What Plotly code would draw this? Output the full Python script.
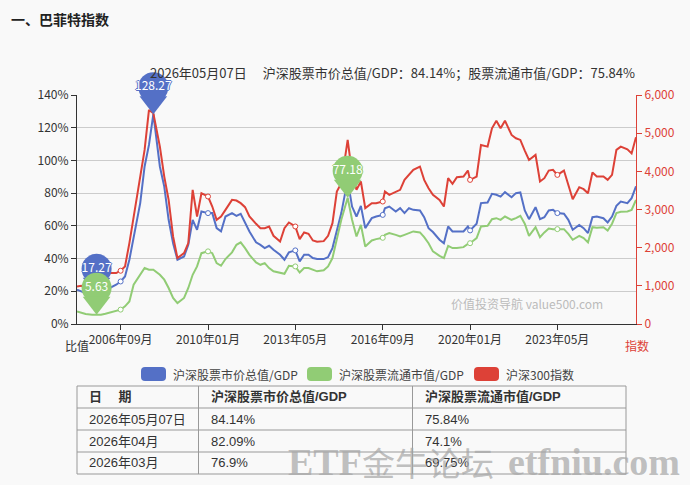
import plotly.graph_objects as go

# ---------------- data ----------------
dates = [
    "2005-01", "2005-03", "2005-05", "2005-08", "2005-10", "2005-12", "2006-02", "2006-04", "2006-07", "2006-09",
    "2006-11", "2007-01", "2007-03", "2007-06", "2007-08", "2007-10", "2007-12", "2008-03", "2008-05", "2008-07",
    "2008-09", "2008-11", "2009-02", "2009-04", "2009-06", "2009-08", "2009-10", "2010-01", "2010-03", "2010-05",
    "2010-07", "2010-09", "2010-12", "2011-02", "2011-04", "2011-06", "2011-08", "2011-11", "2012-01", "2012-03",
    "2012-05", "2012-07", "2012-10", "2012-12", "2013-02", "2013-05", "2013-07", "2013-09", "2013-11", "2014-01",
    "2014-03", "2014-06", "2014-08", "2014-10", "2014-12", "2015-02", "2015-05", "2015-07", "2015-09", "2015-11",
    "2016-01", "2016-04", "2016-06", "2016-09", "2016-10", "2016-12", "2017-03", "2017-05", "2017-07", "2017-09",
    "2017-11", "2018-02", "2018-04", "2018-06", "2018-08", "2018-11", "2019-01", "2019-03", "2019-05", "2019-07",
    "2019-10", "2019-12", "2020-01", "2020-04", "2020-06", "2020-09", "2020-11", "2021-01", "2021-03", "2021-05",
    "2021-08", "2021-10", "2021-12", "2022-02", "2022-04", "2022-07", "2022-09", "2022-11", "2023-01", "2023-03",
    "2023-05", "2023-08", "2023-10", "2023-12", "2024-03", "2024-05", "2024-07", "2024-09", "2024-11", "2025-02",
    "2025-04", "2025-06", "2025-08", "2025-10", "2026-01", "2026-03", "2026-05",
]

# 沪深股票市价总值/GDP (%)
total_gdp = [
    21.0, 19.9, 18.9, 17.9, 17.27, 17.9, 18.9, 22.0, 24.0, 26.0,
    29.1, 39.3, 53.5, 73.9, 96.3, 109.5, 128.27, 96.3, 84.0, 63.7,
    49.4, 39.3, 41.3, 48.4, 63.7, 57.6, 68.8, 67.8, 67.8, 58.6,
    56.6, 65.7, 67.8, 66.1, 67.4, 61.7, 56.6, 49.9, 48.4, 46.4,
    47.8, 45.4, 42.3, 39.3, 43.8, 45.0, 38.3, 42.3, 42.3, 40.3,
    39.7, 39.7, 40.9, 46.4, 56.6, 67.8, 88.1, 71.8, 65.7, 72.2,
    58.6, 64.7, 65.7, 66.7, 70.8, 71.8, 68.8, 70.8, 67.8, 70.8,
    69.8, 69.4, 65.3, 58.6, 56.2, 51.5, 49.4, 59.6, 56.6, 56.6,
    56.6, 59.6, 57.2, 61.3, 73.9, 74.3, 79.6, 79.0, 77.9, 80.6,
    77.5, 80.0, 80.4, 69.4, 64.1, 71.4, 64.1, 65.3, 69.4, 69.8,
    67.8, 67.4, 63.7, 57.6, 60.6, 58.6, 55.6, 65.3, 65.7, 64.7,
    62.1, 65.7, 72.2, 74.9, 73.9, 76.9, 84.14,
]

# 沪深股票流通市值/GDP (%)
float_gdp = [
    7.7, 6.7, 6.1, 5.7, 5.63, 5.7, 6.3, 7.1, 8.1, 8.8,
    10.8, 13.8, 24.0, 30.1, 34.2, 33.2, 33.2, 30.1, 27.1, 22.0,
    15.9, 12.8, 15.9, 22.0, 30.1, 35.2, 43.3, 44.4, 43.3, 37.2,
    35.6, 39.7, 43.8, 48.4, 49.9, 46.4, 42.3, 37.6, 36.2, 37.2,
    34.2, 32.2, 31.1, 30.7, 35.6, 35.2, 31.5, 34.2, 34.2, 33.2,
    32.2, 32.8, 35.2, 40.3, 51.9, 63.7, 77.18, 63.7, 53.5, 60.6,
    47.4, 51.1, 51.9, 52.7, 54.5, 55.6, 54.5, 53.5, 54.5, 55.6,
    56.6, 56.0, 53.1, 49.4, 44.4, 41.7, 40.3, 47.8, 46.4, 46.4,
    47.0, 49.0, 49.4, 52.5, 59.6, 60.0, 64.1, 64.7, 63.7, 65.7,
    63.7, 64.7, 66.1, 61.3, 53.9, 59.2, 53.1, 56.0, 58.4, 58.0,
    58.0, 58.0, 55.1, 51.5, 53.9, 52.5, 49.9, 59.2, 58.8, 59.2,
    57.2, 61.3, 67.8, 68.6, 68.8, 69.75, 75.84,
]

# 沪深300指数
hs300 = [
    985, 1003, 942, 985, 1029, 1073, 1160, 1334, 1334, 1395,
    1509, 2119, 2817, 3907, 4561, 5608, 5520, 4648, 3863, 3253,
    2294, 1727, 1858, 2119, 3515, 2817, 3427, 3340, 3078, 2730,
    2817, 2991, 3253, 3235, 3166, 3061, 2817, 2625, 2512, 2512,
    2555, 2311, 2163, 2512, 2660, 2555, 2224, 2398, 2363, 2189,
    2154, 2171, 2311, 2642, 3471, 3689, 4823, 3951, 3515, 3733,
    3035, 3166, 3166, 3209, 3471, 3384, 3471, 3515, 3776, 3907,
    4038, 4125, 3776, 3558, 3384, 3253, 3078, 3820, 3671, 3846,
    3863, 4020, 3776, 3863, 4692, 4648, 5128, 5328, 5128, 5328,
    4953, 4866, 4823, 4544, 4299, 4430, 3733, 3820, 4020, 4038,
    3907, 4020, 3619, 3270, 3584, 3532, 3427, 3968, 3863, 3863,
    3776, 3907, 4561, 4648, 4578, 4470, 4892,
]

tick_dates = ["2006-09", "2010-01", "2013-05", "2016-09", "2020-01", "2023-05"]
tick_text = ["2006年09月", "2010年01月", "2013年05月", "2016年09月", "2020年01月", "2023年05月"]

legend_names = ["沪深股票市价总值/GDP", "沪深股票流通市值/GDP", "沪深300指数"]

table_header = ["日\u3000 期", "沪深股票市价总值/GDP", "沪深股票流通市值/GDP"]
table_dates = ["2026年05月07日", "2026年04月", "2026年03月"]
table_total = ["84.14%", "82.09%", "76.9%"]
table_float = ["75.84%", "74.1%", "69.75%"]

latest_label = "2026年05月07日"

# ---------------- style ----------------
BLUE, GREEN, RED = "#5470c6", "#91cc75", "#dd4137"
BG = "#f9f9f9"
W, H = 690, 485
ML, MR, MT, MB = 77, 54, 60, 161
PW, PH = W - ML - MR, H - MT - MB
PLOT_TOP, PLOT_BOTTOM = 95, H - MB          # pixel rows of the 140% / 0% lines
DOM_TOP = (PLOT_BOTTOM - PLOT_TOP) / PH
Y_MAX, R_MAX = 140, 6000
FONT = "Noto Sans CJK SC, Noto Sans, sans-serif"
TFONT = "Liberation Sans, Arial, Noto Sans CJK SC, sans-serif"


def fx(p):
    return (p - ML) / PW


def fy(p):
    return (PLOT_BOTTOM - p) / PH


def outline(c):
    return f"-1px 0 {c}, 1px 0 {c}, 0 -1px {c}, 0 1px {c}"


fig = go.Figure()

tick_idx = [dates.index(d) for d in tick_dates]
for vals, color, name, ax in [
    (total_gdp, BLUE, legend_names[0], "y"),
    (float_gdp, GREEN, legend_names[1], "y"),
    (hs300, RED, legend_names[2], "y2"),
]:
    fig.add_trace(go.Scatter(x=dates, y=vals, mode="lines", name=name, yaxis=ax,
                             line=dict(color=color, width=2), showlegend=False, hoverinfo="skip"))
    fig.add_trace(go.Scatter(x=[dates[i] for i in tick_idx], y=[vals[i] for i in tick_idx],
                             mode="markers", yaxis=ax, showlegend=False, hoverinfo="skip",
                             marker=dict(symbol="circle", size=5, color="#ffffff",
                                         line=dict(color=color, width=1))))

# pins (max / min markPoints) drawn on copies of the left axis shifted upward
for vals, color, (yc, yt) in [(total_gdp, BLUE, ("y3", "y4")), (float_gdp, GREEN, ("y5", "y6"))]:
    idx = [vals.index(max(vals)), vals.index(min(vals))]
    xs = [dates[i] for i in idx]
    ys = [vals[i] for i in idx]
    fig.add_trace(go.Scatter(x=xs, y=ys, yaxis=yc, mode="markers+text",
                             marker=dict(symbol="circle", size=30, color=color, line=dict(width=0)),
                             text=[f"{v:.2f}" for v in ys], textposition="middle center",
                             textfont=dict(color="white", size=12, family=FONT, shadow=outline(color)),
                             cliponaxis=False, showlegend=False, hoverinfo="skip"))
    fig.add_trace(go.Scatter(x=xs, y=ys, yaxis=yt, mode="markers",
                             marker=dict(symbol="triangle-down", size=24, color=color, line=dict(width=0)),
                             cliponaxis=False, showlegend=False, hoverinfo="skip"))

shapes = []
annotations = []

# title / subtitle
annotations.append(dict(xref="paper", yref="paper", x=fx(9), y=fy(19), xanchor="left", yanchor="middle",
                        text="<b>一、巴菲特指数</b>", showarrow=False,
                        font=dict(family=FONT, size=14, color="#222")))
subtitle = (f"{latest_label}\u3000 沪深股票市价总值/GDP：{total_gdp[-1]:.2f}%；"
            f"股票流通市值/GDP：{float_gdp[-1]:.2f}%")
annotations.append(dict(xref="paper", yref="paper", x=fx(637), y=fy(73), xanchor="right", yanchor="middle",
                        text=subtitle, showarrow=False, font=dict(family=FONT, size=13, color="#333")))

# axis names
annotations.append(dict(xref="paper", yref="paper", x=fx(77), y=fy(345), xanchor="center", yanchor="middle",
                        text="比值", showarrow=False, font=dict(family=FONT, size=12, color="#333")))
annotations.append(dict(xref="paper", yref="paper", x=fx(637), y=fy(345), xanchor="center", yanchor="middle",
                        text="指数", showarrow=False, font=dict(family=FONT, size=12, color=RED)))

# site watermark inside plot
annotations.append(dict(xref="paper", yref="paper", x=fx(527), y=fy(303), xanchor="center", yanchor="middle",
                        text="价值投资导航 value500.com", showarrow=False,
                        font=dict(family=FONT, size=12, color="#bbbbbb")))


def rounded_rect(x0, y0, x1, y1, r):
    pts = [
        ("M", [(x0 + r, y0)]), ("L", [(x1 - r, y0)]), ("Q", [(x1, y0), (x1, y0 + r)]),
        ("L", [(x1, y1 - r)]), ("Q", [(x1, y1), (x1 - r, y1)]), ("L", [(x0 + r, y1)]),
        ("Q", [(x0, y1), (x0, y1 - r)]), ("L", [(x0, y0 + r)]), ("Q", [(x0, y0), (x0 + r, y0)]),
    ]
    s = ""
    for cmd, ps in pts:
        s += cmd + " " + " ".join(f"{fx(a):.5f},{fy(b):.5f}" for a, b in ps) + " "
    return s + "Z"


# legend (manual, rounded icons)
legend_x = [141, 307, 474]
for lx, name, color in zip(legend_x, legend_names, [BLUE, GREEN, RED]):
    shapes.append(dict(type="path", xref="paper", yref="paper", path=rounded_rect(lx, 367, lx + 25, 381, 4),
                       fillcolor=color, line=dict(width=0)))
    annotations.append(dict(xref="paper", yref="paper", x=fx(lx + 30), y=fy(374), xanchor="left",
                            yanchor="middle", text=name, showarrow=False,
                            font=dict(family=FONT, size=12, color="#444")))

# table
tx = [77, 198.5, 412.5, 626]
ty = [386, 408, 430, 452, 474]
shapes.append(dict(type="rect", xref="paper", yref="paper", x0=fx(tx[0]), x1=fx(tx[-1]),
                   y0=fy(ty[0]), y1=fy(ty[-1]), line=dict(color="#999", width=1)))
for x in tx[1:-1]:
    shapes.append(dict(type="line", xref="paper", yref="paper", x0=fx(x), x1=fx(x),
                       y0=fy(ty[0]), y1=fy(ty[-1]), line=dict(color="#999", width=1)))
for y in ty[1:-1]:
    shapes.append(dict(type="line", xref="paper", yref="paper", x0=fx(tx[0]), x1=fx(tx[-1]),
                       y0=fy(y), y1=fy(y), line=dict(color="#999", width=1)))

rows = [[f"<b>{h}</b>" for h in table_header]] + [list(r) for r in zip(table_dates, table_total, table_float)]
for ri, row in enumerate(rows):
    yc = (ty[ri] + ty[ri + 1]) / 2
    for ci, cell in enumerate(row):
        annotations.append(dict(xref="paper", yref="paper", x=fx(tx[ci] + 10), y=fy(yc), xanchor="left",
                                yanchor="middle", text=cell, showarrow=False,
                                font=dict(family=TFONT, size=13, color="#333")))

# forum watermark
WM = "rgba(165,165,165,0.7)"
annotations.append(dict(xref="paper", yref="paper", x=fx(286), y=fy(462), xanchor="left", yanchor="middle",
                        text="<b>ETF</b>", showarrow=False, font=dict(family="Liberation Serif", size=38, color=WM)))
annotations.append(dict(xref="paper", yref="paper", x=fx(428), y=fy(462), xanchor="center", yanchor="middle",
                        text="金牛论坛", showarrow=False, font=dict(family=FONT, size=33, color=WM)))
annotations.append(dict(xref="paper", yref="paper", x=fx(682), y=fy(462), xanchor="right", yanchor="middle",
                        text="<b>etfniu.com</b>", showarrow=False,
                        font=dict(family="Liberation Serif", size=38, color=WM)))

pin_c, pin_t = 27 / PH, 12 / PH   # vertical lift of pin head / pin tip (as domain fraction)
fig.update_layout(
    width=W, height=H,
    margin=dict(l=ML, r=MR, t=MT, b=MB, pad=0),
    paper_bgcolor=BG, plot_bgcolor="rgba(0,0,0,0)",
    showlegend=False,
    font=dict(family=FONT, size=12, color="#333"),
    xaxis=dict(type="date", range=["2005-01-01", "2026-05-01"], tickvals=tick_dates, ticktext=tick_text,
               ticks="outside", ticklen=5, tickcolor="#333", showline=True, linecolor="#333", linewidth=1,
               showgrid=False, zeroline=False, anchor="y",
               tickfont=dict(family=FONT, size=12, color="#333")),
    yaxis=dict(domain=[0, DOM_TOP], range=[0, Y_MAX], dtick=20, ticksuffix="%", ticks="outside", ticklen=5,
               tickcolor="#333", showline=True, linecolor="#333", linewidth=1, showgrid=True,
               gridcolor="#cccccc", gridwidth=1, zeroline=False,
               tickfont=dict(family=FONT, size=12, color="#333")),
    yaxis2=dict(range=[0, R_MAX], dtick=1000, tickformat=",", overlaying="y", side="right",
                ticks="outside", ticklen=5, tickcolor=RED, showline=True, linecolor=RED, linewidth=1,
                showgrid=False, zeroline=False, tickfont=dict(family=FONT, size=12, color=RED)),
    yaxis3=dict(domain=[pin_c, DOM_TOP + pin_c], range=[0, Y_MAX], visible=False, anchor="x"),
    yaxis4=dict(domain=[pin_t, DOM_TOP + pin_t], range=[0, Y_MAX], visible=False, anchor="x"),
    yaxis5=dict(domain=[pin_c, DOM_TOP + pin_c], range=[0, Y_MAX], visible=False, anchor="x"),
    yaxis6=dict(domain=[pin_t, DOM_TOP + pin_t], range=[0, Y_MAX], visible=False, anchor="x"),
    shapes=shapes,
    annotations=annotations,
)

fig.write_html("out.html")
